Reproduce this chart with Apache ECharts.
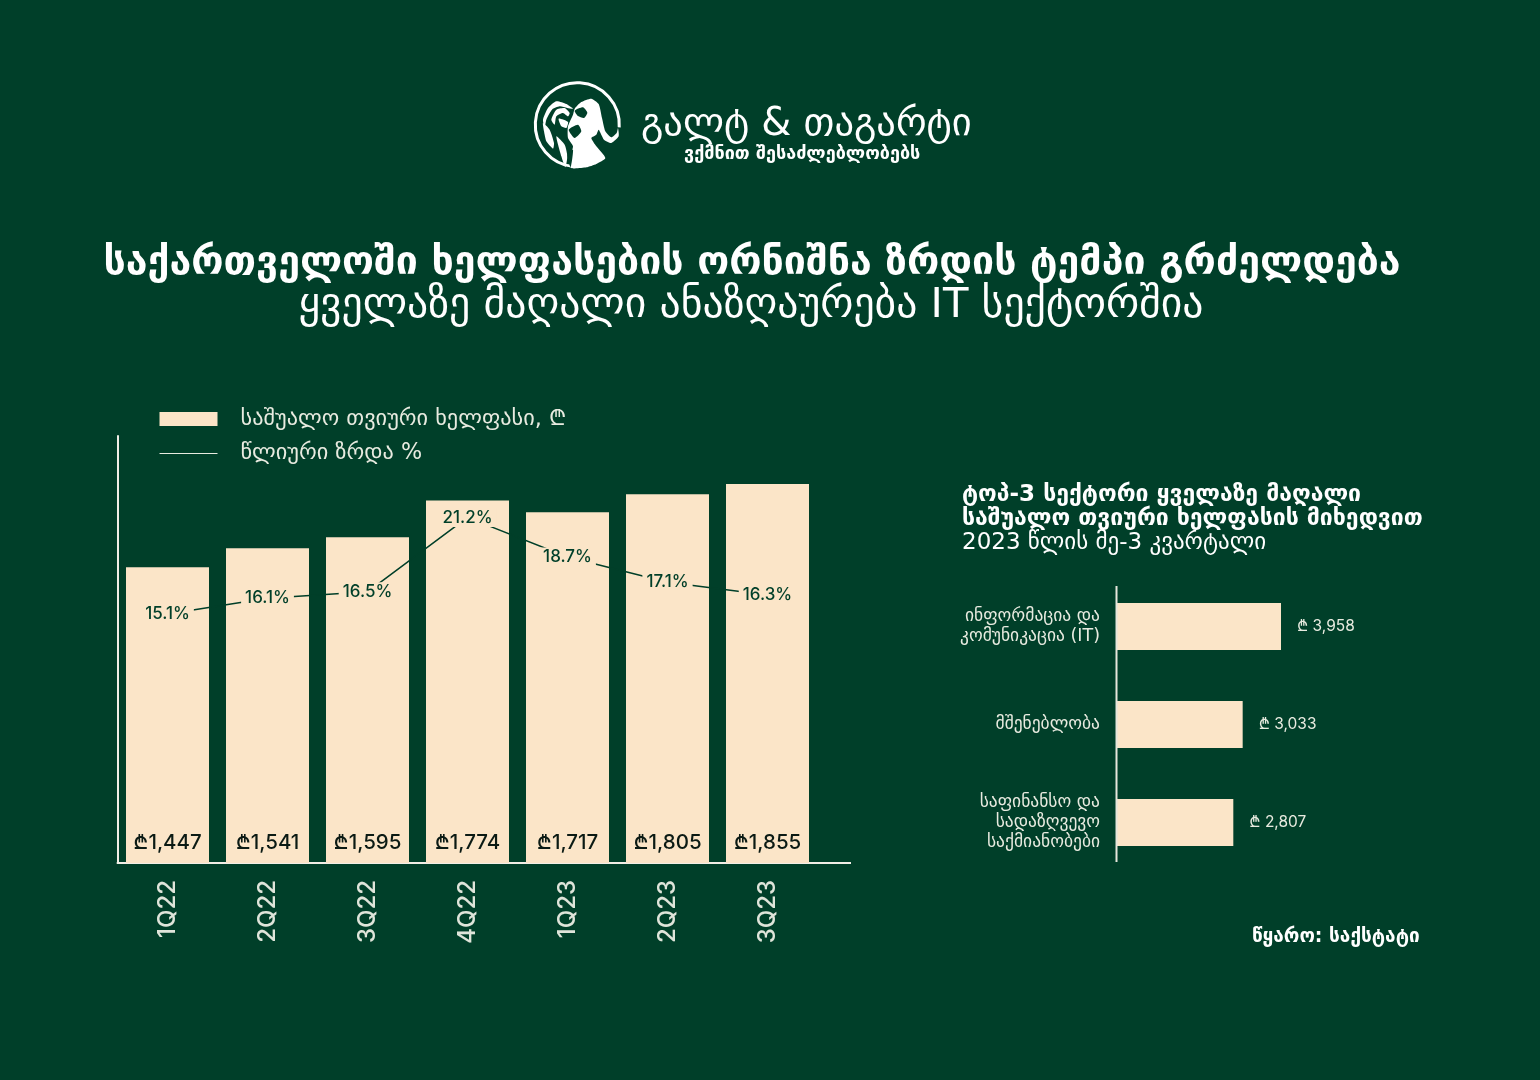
<!DOCTYPE html>
<html><head><meta charset="utf-8">
<style>html,body{margin:0;padding:0;background:#003f29}#c{width:1540px;height:1080px}</style>
<script src="https://cdn.jsdelivr.net/npm/echarts@6/dist/echarts.min.js"></script>
</head><body><div id="c"></div>
<script>
const quarters = ['1Q22','2Q22','3Q22','4Q22','1Q23','2Q23','3Q23'];
const salary = [1447,1541,1595,1774,1717,1805,1855];
const growth = [15.1,16.1,16.5,21.2,18.7,17.1,16.3];
const sectors = ['ინფორმაცია და\nკომუნიკაცია (IT)','მშენებლობა','საფინანსო და\nსადაზღვევო\nსაქმიანობები'];
const sectorSalary = [3958,3033,2807];
const salaryName = 'საშუალო თვიური ხელფასი, ₾';
const growthName = 'წლიური ზრდა %';
const BG='#003f29', CREAM='#fbe5c8', LIGHT='#f1efe6';
const F='"DejaVu Sans","Noto Sans",sans-serif';
const N='Inter,"DejaVu Sans",sans-serif';
const fmt=v=>v.toLocaleString('en-US');
const T=(text,left,top,size,weight,align,color)=>({text,left,top,textAlign:align||'left',
  textStyle:{fontFamily:F,fontSize:size,fontWeight:weight||'normal',color:color||'#ffffff',lineHeight:Math.round(size*1.2)}});
// logo outline, traced in a 100x95 box whose corner sits at (528,78)
const logo=(pts,fill)=>({type:'polygon',z:6,shape:{points:pts.map(p=>[528+p[0]/3,78+p[1]/3]),smooth:0.2},style:{fill:fill||'#fff'}});
const logoParts=[
  logo([[140,92],[160,72],[190,62],[212,78],[222,120],[232,160],[250,178],[266,165],[270,150],[272,175],[250,195],[228,185],[212,155],[205,170],[190,180],[205,205],[232,240],[205,258],[175,268],[130,270],[125,240],[135,205],[120,180],[120,145],[135,110]]),
  logo([[45,125],[60,90],[85,70],[115,78],[135,92],[118,90],[95,85],[72,95],[55,125],[50,150]]),
  logo([[70,125],[85,95],[110,90],[125,105],[120,115],[105,105],[85,115],[80,140]]),
  logo([[45,135],[65,155],[78,195],[75,212],[55,190],[48,160]]),
  logo([[92,122],[120,132],[115,150],[100,145]]),
  logo([[85,175],[110,200],[118,235],[112,268],[100,235]]),
  logo([[140,98],[165,88],[178,104],[168,120],[150,114]],BG),
  logo([[122,155],[150,140],[160,160],[140,180]],BG),
  logo([[118,232],[135,215],[128,268]],BG)
];
const chart=echarts.init(document.getElementById('c'),null,{renderer:'canvas'});
chart.setOption({
  backgroundColor:BG,animation:false,
  title:[
    T('საქართველოში ხელფასების ორნიშნა ზრდის ტემპი გრძელდება',747,235,39.25,'bold','center'),
    T('ყველაზე მაღალი ანაზღაურება IT სექტორშია',746,276,41.7,'normal','center'),
    T('გალტ & თაგარტი',636,97,38.5,'normal','left'),
    T('ვქმნით შესაძლებლობებს',679,138,18,'bold','left'),
    T('ტოპ-3 სექტორი ყველაზე მაღალი',957,476,23,'bold'),
    T('საშუალო თვიური ხელფასის მიხედვით',957,500,23,'bold'),
    T('2023 წლის მე-3 კვარტალი',957,524,23,'normal'),
    T('წყარო: საქსტატი',1247,921,19,'bold')
  ],
  legend:{orient:'vertical',left:154,top:403,itemWidth:58,itemHeight:14,itemGap:12.5,
    textStyle:{color:'#e8ebe0',fontFamily:F,fontSize:22.3,padding:[0,0,0,18]},
    data:[{name:salaryName,icon:'rect'},{name:growthName,lineStyle:{color:'#e8ebe0',width:1},itemStyle:{color:'#e8ebe0',opacity:0}}]},
  grid:[
    {left:117.5,top:436,width:700,height:427},
    {left:1117,top:577.5,width:300,height:294}
  ],
  xAxis:[
    {type:'category',gridIndex:0,data:quarters,axisTick:{show:false},
     axisLine:{lineStyle:{color:LIGHT,width:2}},
     axisLabel:{rotate:90,color:'#dfe5da',fontFamily:N,fontSize:24,fontWeight:500,margin:17,padding:[3,0,0,0]}},
    {type:'value',gridIndex:1,min:0,max:7240,show:false}
  ],
  yAxis:[
    {type:'value',gridIndex:0,min:0,max:2090,axisLabel:{show:false},axisTick:{show:false},splitLine:{show:false},
     axisLine:{show:true,lineStyle:{color:LIGHT,width:2}}},
    {type:'value',gridIndex:0,min:-0.625,max:26.34,show:false,splitLine:{show:false}},
    {type:'category',gridIndex:1,inverse:true,data:sectors,axisTick:{show:false},axisLine:{show:false},
     axisLabel:{color:'#e8ebe0',fontFamily:F,fontSize:17.5,margin:17,lineHeight:20,align:'right'}}
  ],
  series:[
    {name:salaryName,type:'bar',xAxisIndex:0,yAxisIndex:0,data:salary,barWidth:83,
     itemStyle:{color:CREAM},z:2,
     label:{show:true,position:'insideBottom',distance:10,color:'#0b1a14',fontFamily:N,fontSize:20.5,fontWeight:500,
       formatter:p=>'₾'+fmt(p.value)}},
    {name:growthName,type:'line',xAxisIndex:0,yAxisIndex:1,data:growth,symbol:'circle',symbolSize:1,showSymbol:true,z:3,
     lineStyle:{color:BG,width:1.5},itemStyle:{color:BG},
     label:{show:true,position:'inside',color:BG,fontFamily:N,fontSize:17,fontWeight:500,
       backgroundColor:CREAM,padding:[1,4],
       formatter:p=>p.value.toFixed(1)+'%'}},
    {type:'bar',xAxisIndex:1,yAxisIndex:2,data:sectorSalary,barWidth:47,itemStyle:{color:CREAM},
     label:{show:true,position:'right',distance:16,color:'#e8ebe0',fontFamily:N,fontSize:15.5,
       formatter:p=>'₾ '+fmt(p.value)}}
  ],
  graphic:[
    {type:'line',shape:{x1:817,y1:863,x2:851,y2:863},style:{stroke:LIGHT,lineWidth:2}},
    {type:'line',shape:{x1:1116.5,y1:586,x2:1116.5,y2:862},style:{stroke:'#e6e6dc',lineWidth:2},z:5},
    {type:'arc',shape:{cx:577.3,cy:124.7,r:42,startAngle:0.02*Math.PI,endAngle:0.53*Math.PI,clockwise:false},
      style:{stroke:'#fff',lineWidth:3,fill:null}}
  ].concat(logoParts)
});
</script></body></html>
